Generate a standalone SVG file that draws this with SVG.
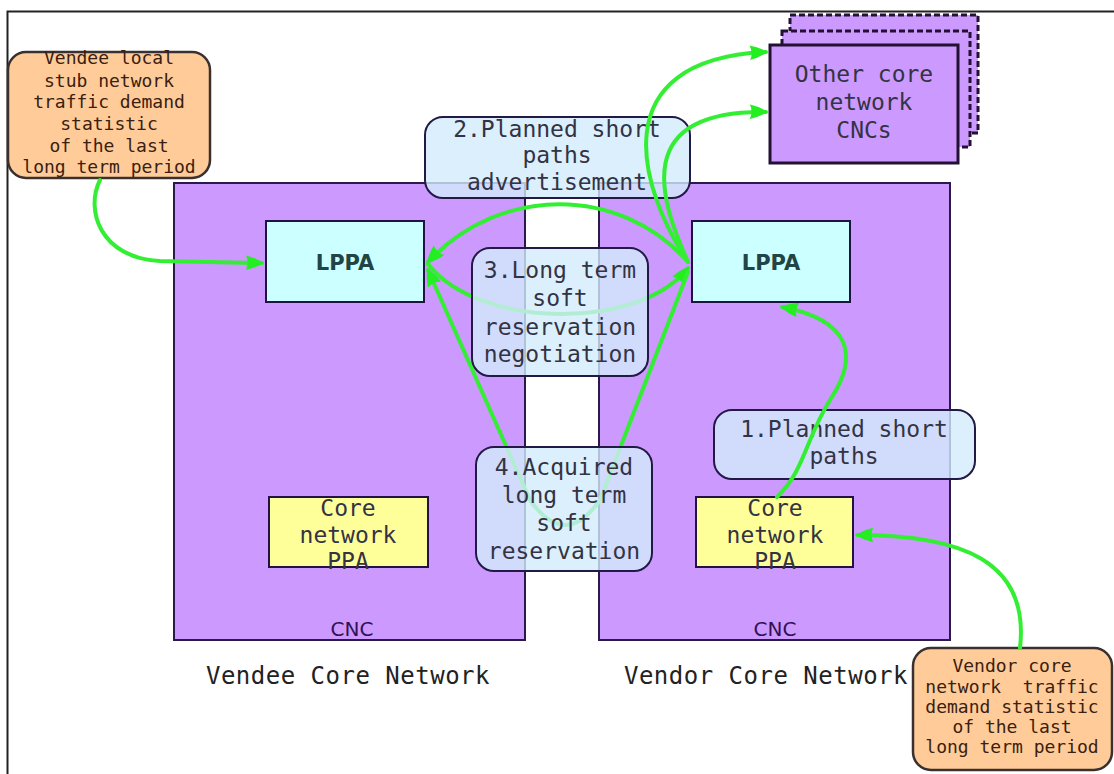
<svg xmlns="http://www.w3.org/2000/svg" width="1114" height="774" viewBox="0 0 1114 774">
<defs>
<style>
.cnc{fill:#cc99ff;stroke:#2a1a4a;stroke-width:2}
.lppa{fill:#ccffff;stroke:#221144;stroke-width:2}
.ppa{fill:#ffff99;stroke:#221144;stroke-width:2}
.orange{fill:#ffcc99;stroke:#3a3030;stroke-width:2.5}
.lbl{fill:#d2ecfb;fill-opacity:0.8;stroke:#221a44;stroke-width:2}
.mono{font-family:"DejaVu Sans Mono","Liberation Mono",monospace;text-anchor:middle}
.big{font-size:23px;fill:#333344}
.otxt{font-size:18px;fill:#3a2010;white-space:pre}
.sans{font-family:"DejaVu Sans","Liberation Sans",sans-serif;text-anchor:middle}
.conn{fill:none;stroke:#33ee33;stroke-width:4;stroke-linecap:round}
</style>
<marker id="ah" viewBox="0 0 10 10" refX="9" refY="5" markerWidth="4.5" markerHeight="4.5" orient="auto" markerUnits="strokeWidth">
<path d="M0,1 Q5,2 10,5 Q5,8 0,9 Q2,5 0,1 Z" fill="#22ee22"/>
</marker>
</defs>
<rect x="7.5" y="11.5" width="1120" height="780" fill="#ffffff" stroke="#222222" stroke-width="2"/>

<g id="vendee-cnc">
<rect class="cnc" x="174" y="183" width="351" height="457"/>
<text class="sans" x="352" y="636" font-size="20" fill="#331155">CNC</text>
</g>
<g id="vendor-cnc">
<rect class="cnc" x="599" y="183" width="351" height="457"/>
<text class="sans" x="775" y="636" font-size="20" fill="#331155">CNC</text>
</g>
<g id="vendee-lppa">
<rect class="lppa" x="266" y="221" width="158" height="81"/>
<text class="sans" x="345" y="270" font-size="21" font-weight="bold" fill="#224444">LPPA</text>
</g>
<g id="vendor-lppa">
<rect class="lppa" x="692" y="221" width="158" height="81"/>
<text class="sans" x="771" y="270" font-size="21" font-weight="bold" fill="#224444">LPPA</text>
</g>
<g id="vendee-ppa">
<rect class="ppa" x="269" y="497" width="159" height="70"/>
<text class="mono big" x="348" y="516" fill="#333300">Core</text>
<text class="mono big" x="348" y="543" fill="#333300">network</text>
<text class="mono big" x="348" y="569" fill="#333300">PPA</text>
</g>
<g id="vendor-ppa">
<rect class="ppa" x="696" y="497" width="157" height="70"/>
<text class="mono big" x="775" y="516" fill="#333300">Core</text>
<text class="mono big" x="775" y="543" fill="#333300">network</text>
<text class="mono big" x="775" y="569" fill="#333300">PPA</text>
</g>
<g id="other-cncs">
<rect x="790" y="15" width="188" height="118" fill="#cc99ff" stroke="#221133" stroke-width="3" stroke-dasharray="6 3"/>
<rect x="782" y="31" width="188" height="116" fill="#cc99ff" stroke="#221133" stroke-width="3" stroke-dasharray="6 3"/>
<rect x="770" y="45" width="188" height="118" fill="#cc99ff" stroke="#221133" stroke-width="3"/>
<text class="mono big" x="864" y="82" fill="#331155">Other core</text>
<text class="mono big" x="864" y="110" fill="#331155">network</text>
<text class="mono big" x="864" y="138" fill="#331155">CNCs</text>
</g>
<g id="vendee-demand">
<rect class="orange" x="8" y="52" width="202" height="126" rx="18"/>
<text class="mono otxt" x="109" y="64">Vendee local</text>
<text class="mono otxt" x="109" y="87">stub network</text>
<text class="mono otxt" x="109" y="108">traffic demand</text>
<text class="mono otxt" x="109" y="130">statistic</text>
<text class="mono otxt" x="109" y="152">of the last</text>
<text class="mono otxt" x="109" y="173">long term period</text>
</g>
<g id="vendor-demand">
<rect class="orange" x="913" y="648" width="199" height="122" rx="18"/>
<text class="mono otxt" x="1012" y="672">Vendor core</text>
<text class="mono otxt" x="1012" y="693" xml:space="preserve">network  traffic</text>
<text class="mono otxt" x="1012" y="713">demand statistic</text>
<text class="mono otxt" x="1012" y="733">of the last</text>
<text class="mono otxt" x="1012" y="753">long term period</text>
</g>
<g id="label-2">
<rect class="lbl" x="425" y="117" width="265" height="81" rx="18"/>
<text class="mono big" x="557" y="137">2.Planned short</text>
<text class="mono big" x="557" y="163">paths</text>
<text class="mono big" x="557" y="190">advertisement</text>
</g>
<g id="label-1">
<rect class="lbl" x="714" y="410" width="261" height="69" rx="18"/>
<text class="mono big" x="844" y="437">1.Planned short</text>
<text class="mono big" x="844" y="464">paths</text>
</g>
<g id="connectors">
<path class="conn" d="M100,180 C85,210 100,258 160,261 L262,263" marker-end="url(#ah)"/>
<path class="conn" d="M688,262 C640,190 600,60 766,52" marker-end="url(#ah)"/>
<path class="conn" d="M688,262 C660,200 630,110 766,112" marker-end="url(#ah)"/>
<path class="conn" d="M688,262 C620,185 500,185 428,262" marker-end="url(#ah)"/>
<path class="conn" d="M428,264 C480,330 640,330 688,268" marker-end="url(#ah)"/>
<path class="conn" d="M688,272 L600,500 Q565,550 530,500 L428,270" marker-end="url(#ah)"/>
<path class="conn" d="M777,497 C805,470 805,440 830,400 C860,355 850,320 782,307" marker-end="url(#ah)"/>
<path class="conn" d="M1020,648 C1030,560 960,535 857,535" marker-end="url(#ah)"/>
</g>
<g id="label-3">
<rect class="lbl" x="472" y="248" width="176" height="128" rx="18"/>
<text class="mono big" x="560" y="278">3.Long term</text>
<text class="mono big" x="560" y="306">soft</text>
<text class="mono big" x="560" y="335">reservation</text>
<text class="mono big" x="560" y="362">negotiation</text>
</g>
<g id="label-4">
<rect class="lbl" x="476" y="447" width="176" height="124" rx="18"/>
<text class="mono big" x="564" y="475">4.Acquired</text>
<text class="mono big" x="564" y="503">long term</text>
<text class="mono big" x="564" y="531">soft</text>
<text class="mono big" x="564" y="559">reservation</text>
</g>
<g id="captions">
<text class="mono" x="348" y="684" font-size="24" letter-spacing="0.5" fill="#222222">Vendee Core Network</text>
<text class="mono" x="766" y="684" font-size="24" letter-spacing="0.5" fill="#222222">Vendor Core Network</text>
</g>
</svg>
